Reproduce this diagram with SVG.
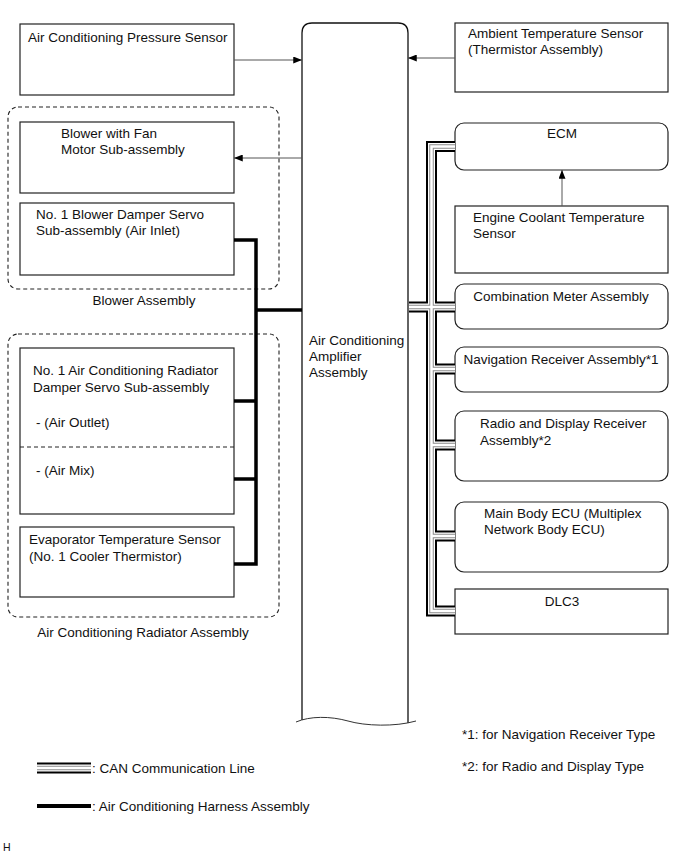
<svg xmlns="http://www.w3.org/2000/svg" width="691" height="854" viewBox="0 0 691 854">
<style>
text{font-family:"Liberation Sans",Arial,sans-serif;font-size:13.5px;fill:#111}
.box{fill:#fff;stroke:#222;stroke-width:1.2}
.grp{fill:none;stroke:#222;stroke-width:1.1;stroke-dasharray:4,3}
.thin{fill:none;stroke:#555;stroke-width:1}
.amp{fill:none;stroke:#111;stroke-width:1.3}
.harn{fill:none;stroke:#000;stroke-width:3.5;stroke-linecap:butt;stroke-linejoin:miter}
.c1{fill:none;stroke:#000;stroke-width:11}
.c2{fill:none;stroke:#fff;stroke-width:7}
.c3{fill:none;stroke:#8a8a8a;stroke-width:4.5}
.c4{fill:none;stroke:#fff;stroke-width:2.5}
.mid{text-anchor:middle}
</style>
<defs>
<marker id="ah" viewBox="0 0 10 8" refX="10" refY="4" markerWidth="9" markerHeight="7" markerUnits="userSpaceOnUse" orient="auto">
<path d="M0,0 L10,4 L0,8 z" fill="#000"/>
</marker>
<path id="canbus" d="M455,146.5 H431.5 V611 H455 M409,307 H455 M431.5,369 H455 M431.5,445 H455 M431.5,536 H455"/>
<path id="canleg" d="M37,768 H91"/>
</defs>

<!-- groups (dashed) -->
<g id="blower-assembly">
<rect class="grp" x="8" y="107" width="271" height="182" rx="10"/>
<text class="mid" x="144" y="305">Blower Assembly</text>
</g>
<g id="radiator-assembly">
<rect class="grp" x="8" y="334" width="271" height="283" rx="10"/>
<text class="mid" x="143" y="637">Air Conditioning Radiator Assembly</text>
</g>

<!-- amplifier -->
<g id="amplifier">
<path class="amp" d="M302,720 V33 Q302,23 312,23 H398 Q408,23 408,33 V723"/>
<path fill="none" stroke="#333" stroke-width="1" d="M296,722 C310,716 330,716 348,721 C365,726 395,727 416,721"/>
<text x="309" y="345">Air Conditioning</text>
<text x="309" y="361">Amplifier</text>
<text x="309" y="377">Assembly</text>
</g>

<!-- left nodes -->
<g id="pressure-sensor">
<rect class="box" x="20" y="24" width="214" height="71"/>
<text x="28" y="42">Air Conditioning Pressure Sensor</text>
</g>
<g id="blower-fan">
<rect class="box" x="20" y="122" width="214" height="71"/>
<text x="61" y="138">Blower with Fan</text>
<text x="61" y="154">Motor Sub-assembly</text>
</g>
<g id="blower-damper">
<rect class="box" x="20" y="203" width="214" height="72"/>
<text x="36" y="219">No. 1 Blower Damper Servo</text>
<text x="36" y="235">Sub-assembly (Air Inlet)</text>
</g>
<g id="radiator-damper">
<rect class="box" x="20" y="348" width="214" height="166"/>
<line x1="20" y1="447" x2="234" y2="447" stroke="#222" stroke-width="1" stroke-dasharray="4,3"/>
<text x="33" y="375">No. 1 Air Conditioning Radiator</text>
<text x="33" y="392">Damper Servo Sub-assembly</text>
<text x="36" y="427">- (Air Outlet)</text>
<text x="36" y="475">- (Air Mix)</text>
</g>
<g id="evaporator-sensor">
<rect class="box" x="20" y="527" width="214" height="70"/>
<text x="29" y="544">Evaporator Temperature Sensor</text>
<text x="29" y="561">(No. 1 Cooler Thermistor)</text>
</g>

<!-- right nodes -->
<g id="ambient-sensor">
<rect class="box" x="455" y="23" width="213" height="69"/>
<text x="468" y="38">Ambient Temperature Sensor</text>
<text x="468" y="54">(Thermistor Assembly)</text>
</g>
<g id="ecm">
<rect class="box" x="455" y="123" width="213" height="47" rx="9"/>
<text class="mid" x="562" y="138">ECM</text>
</g>
<g id="coolant-sensor">
<rect class="box" x="455" y="206" width="213" height="67"/>
<text x="473" y="222">Engine Coolant Temperature</text>
<text x="473" y="238">Sensor</text>
</g>
<g id="combination-meter">
<rect class="box" x="455" y="284" width="213" height="45" rx="9"/>
<text class="mid" x="561" y="301">Combination Meter Assembly</text>
</g>
<g id="navigation">
<rect class="box" x="455" y="347" width="213" height="45" rx="9"/>
<text class="mid" x="561" y="364">Navigation Receiver Assembly*1</text>
</g>
<g id="radio-display">
<rect class="box" x="455" y="411" width="213" height="70" rx="9"/>
<text x="480" y="428">Radio and Display Receiver</text>
<text x="480" y="445">Assembly*2</text>
</g>
<g id="main-body-ecu">
<rect class="box" x="455" y="502" width="213" height="70" rx="9"/>
<text x="484" y="518">Main Body ECU (Multiplex</text>
<text x="484" y="534">Network Body ECU)</text>
</g>
<g id="dlc3">
<rect class="box" x="455" y="589" width="213" height="45"/>
<text class="mid" x="562" y="606">DLC3</text>
</g>

<!-- connectors -->
<g id="connectors">
<line class="thin" x1="234" y1="60" x2="302" y2="60" marker-end="url(#ah)"/>
<line class="thin" x1="455" y1="58" x2="408" y2="58" marker-end="url(#ah)"/>
<line class="thin" x1="302" y1="158" x2="234" y2="158" marker-end="url(#ah)"/>
<line class="thin" x1="562" y1="206" x2="562" y2="170" marker-end="url(#ah)"/>
<path class="harn" d="M234,240 H256 V564 H234 M256,310 H302 M234,401 H256 M234,479 H256"/>
<use href="#canbus" class="c1"/>
<use href="#canbus" class="c2"/>
<use href="#canbus" class="c3"/>
<use href="#canbus" class="c4"/>
</g>

<!-- legend & notes -->
<g id="legend">
<use href="#canleg" class="c1"/>
<use href="#canleg" class="c2"/>
<use href="#canleg" class="c3"/>
<use href="#canleg" class="c4"/>
<text x="92" y="773">: CAN Communication Line</text>
<line x1="37" y1="806" x2="91" y2="806" stroke="#000" stroke-width="4"/>
<text x="92" y="811">: Air Conditioning Harness Assembly</text>
<text x="462" y="739">*1: for Navigation Receiver Type</text>
<text x="462" y="771">*2: for Radio and Display Type</text>
<text x="3" y="851" style="font-size:10.5px">H</text>
</g>
</svg>
